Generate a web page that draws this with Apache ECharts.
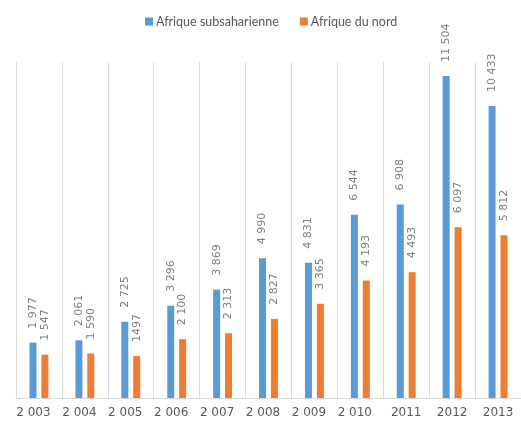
<!DOCTYPE html>
<html>
<head>
<meta charset="utf-8">
<script src="https://cdn.jsdelivr.net/npm/echarts@6/dist/echarts.min.js"></script>
<style>
  html, body { margin: 0; padding: 0; background: #fff; }
  #chart { width: 521px; height: 421px; }
</style>
</head>
<body>
<div id="chart"></div>
<script>
const years = ["2 003", "2 004", "2 005", "2 006", "2 007", "2 008", "2 009", "2 010", "2011", "2012", "2013"];
const subsaharienne = [1977, 2061, 2725, 3296, 3869, 4990, 4831, 6544, 6908, 11504, 10433];
const nord = [1547, 1590, 1497, 2100, 2313, 2827, 3365, 4193, 4493, 6097, 5812];

const fmt = v => {
  const s = String(v);
  return s.length > 3 ? s.slice(0, s.length - 3) + " " + s.slice(-3) : s;
};
// 2005 label for North Africa is printed without the thousands space
const nordLabels = ["1 547", "1 590", "1497", "2 100", "2 313", "2 827", "3 365", "4 193", "4 493", "6 097", "5 812"];

const labelStyle = (formatter) => ({
  show: true,
  position: "top",
  rotate: 90,
  align: "left",
  verticalAlign: "middle",
  distance: 14,
  color: "#7f7f7f",
  fontSize: 11,
  fontFamily: "DejaVu Sans",
  formatter: formatter
});

const chart = echarts.init(document.getElementById("chart"));
chart.setOption({
  animation: false,
  textStyle: { fontFamily: "DejaVu Sans" },
  legend: {
    top: 10,
    left: 140,
    itemWidth: 8,
    itemHeight: 8,
    itemGap: 21,
    icon: "rect",
    textStyle: { color: "#595959", fontSize: 12.5, fontFamily: "Lato", padding: [0, 0, 0, -2] },
    data: ["Afrique subsaharienne", "Afrique du nord"]
  },
  grid: {
    left: 16,
    right: -5,
    top: 62,
    bottom: 23
  },
  xAxis: {
    type: "category",
    data: years,
    axisTick: { show: false },
    axisLine: { lineStyle: { color: "#d9d9d9", width: 1 } },
    axisLabel: {
      interval: 0,
      color: "#595959",
      fontSize: 12,
      margin: 9,
      fontFamily: "DejaVu Sans",
      formatter: v => v.indexOf(" ") >= 0 ? "{s|" + v + "}" : v,
      rich: { s: { color: "#595959", fontSize: 12, fontFamily: "DejaVu Sans", padding: [0, 11, 0, 0] } }
    },
    splitLine: { show: true, interval: 0, lineStyle: { color: "#d9d9d9", width: 1 } }
  },
  yAxis: {
    type: "value",
    min: 0,
    max: 12000,
    show: false,
    splitLine: { show: false }
  },
  series: [
    {
      name: "Afrique subsaharienne",
      type: "bar",
      data: subsaharienne,
      barWidth: 7,
      barGap: "70%",
      itemStyle: { color: "#5B9BD5" },
      label: labelStyle(p => fmt(p.value))
    },
    {
      name: "Afrique du nord",
      type: "bar",
      data: nord,
      barWidth: 7,
      itemStyle: { color: "#ED7D31" },
      label: labelStyle(p => nordLabels[p.dataIndex])
    }
  ]
});
</script>
</body>
</html>
